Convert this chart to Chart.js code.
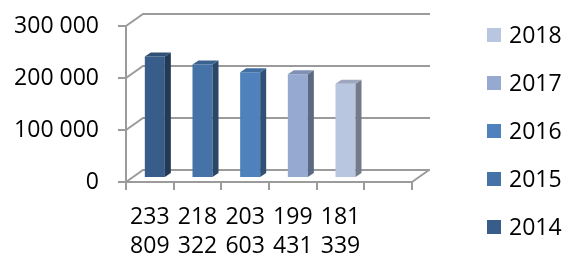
<!DOCTYPE html>
<html lang="en">
<head>
  <meta charset="UTF-8" />
  <title>Bars 2014-2018</title>
  <script src="https://cdn.jsdelivr.net/npm/chart.js"></script>
  <style>
    html, body { margin: 0; padding: 0; background: #ffffff; }
    .chart-container { width: 565px; height: 257px; }
  </style>
</head>
<body>
  <div class="chart-container"><canvas id="barChart"></canvas></div>

  <script>
    // data
    const categories = ['233 809', '218 322', '203 603', '199 431', '181 339', ''];
    const values = [233809, 218322, 203603, 199431, 181339, null];
    const years = ['2014', '2015', '2016', '2017', '2018'];
    const yTicks = [0, 100000, 200000, 300000];

    // styles
    const colors = ['#385D8A', '#4572A7', '#4F81BD', '#95A9D1', '#B9C6E0'];
    const gridColor = '#9b9b9b';
    const fontFamily = "'Open Sans', sans-serif";
    const WALL = { dx: 17, dy: -12 };   // depth of the box
    const SHIFT = { dx: 5, dy: -4 };    // bars sit mid-depth
    const BAR = { dx: 6, dy: -4 };      // depth of each bar

    const fmt = v => String(v).replace(/\B(?=(\d{3})+(?!\d))/g, ' ');

    const shade = (hex, f) => {
      const n = parseInt(hex.slice(1), 16);
      const r = Math.round(((n >> 16) & 255) * f);
      const g = Math.round(((n >> 8) & 255) * f);
      const b = Math.round((n & 255) * f);
      return `rgb(${r},${g},${b})`;
    };

    // back wall, floor and bar side/top faces
    const box3d = {
      id: 'box3d',
      beforeDatasetsDraw(chart) {
        const { ctx, chartArea: a, scales: { y } } = chart;
        ctx.save();
        ctx.strokeStyle = gridColor;
        ctx.lineWidth = 2;
        ctx.beginPath();
        yTicks.forEach(v => {
          const py = y.getPixelForValue(v);
          ctx.moveTo(a.left, py);
          ctx.lineTo(a.left + WALL.dx, py + WALL.dy);
          ctx.lineTo(a.right + WALL.dx + 1, py + WALL.dy);
        });
        const by = y.getPixelForValue(0);
        ctx.moveTo(a.right, by);
        ctx.lineTo(a.right + WALL.dx, by + WALL.dy);
        ctx.stroke();
        ctx.restore();

        ctx.save();
        ctx.translate(SHIFT.dx, SHIFT.dy);
      },
      afterDatasetsDraw(chart) {
        const ctx = chart.ctx;
        chart.getDatasetMeta(0).data.forEach((bar, i) => {
          if (values[i] == null) return;
          const { x, y, base, width } = bar.getProps(['x', 'y', 'base', 'width'], true);
          const l = x - width / 2, r = x + width / 2;
          ctx.fillStyle = shade(colors[i], 0.62);
          ctx.beginPath();
          ctx.moveTo(r, y);
          ctx.lineTo(r + BAR.dx, y + BAR.dy);
          ctx.lineTo(r + BAR.dx, base + BAR.dy);
          ctx.lineTo(r, base);
          ctx.closePath();
          ctx.fill();
          ctx.fillStyle = shade(colors[i], 0.85);
          ctx.beginPath();
          ctx.moveTo(l, y);
          ctx.lineTo(l + BAR.dx, y + BAR.dy);
          ctx.lineTo(r + BAR.dx, y + BAR.dy);
          ctx.lineTo(r, y);
          ctx.closePath();
          ctx.fill();
        });
        ctx.restore();
      }
    };

    // legend on the right, newest year on top
    const sideLegend = {
      id: 'sideLegend',
      afterDraw(chart) {
        const ctx = chart.ctx;
        ctx.save();
        ctx.font = `23px ${fontFamily}`;
        ctx.textBaseline = 'middle';
        years.slice().reverse().forEach((yr, i) => {
          const cy = 35 + i * 48;
          ctx.fillStyle = colors[years.length - 1 - i];
          ctx.fillRect(487, cy - 7, 14, 14);
          ctx.fillStyle = '#000000';
          ctx.fillText(yr, 509, cy + 1);
        });
        ctx.restore();
      }
    };

    new Chart(document.getElementById('barChart'), {
      type: 'bar',
      data: {
        labels: categories,
        datasets: [{
          data: values,
          backgroundColor: colors,
          borderWidth: 0,
          categoryPercentage: 1,
          barPercentage: 0.42
        }]
      },
      options: {
        responsive: true,
        maintainAspectRatio: false,
        animation: false,
        layout: { padding: { top: 26, right: 153, left: 0, bottom: 0 } },
        plugins: {
          legend: { display: false },
          tooltip: { enabled: false }
        },
        scales: {
          x: {
            afterFit: s => { s.height = 75; s.paddingLeft = 0; s.paddingRight = 0; },
            grid: { drawOnChartArea: false, color: gridColor, lineWidth: 2, tickLength: 8, offset: true },
            border: { color: gridColor, width: 2 },
            ticks: {
              color: '#000000',
              padding: 13,
              maxRotation: 0,
              autoSkip: false,
              font: { family: fontFamily, size: 23, lineHeight: 1.26 },
              callback: (v, i) => categories[i] ? categories[i].split(' ') : ''
            }
          },
          y: {
            min: 0,
            max: 300000,
            afterFit: s => { s.width = 126; s.paddingTop = 0; s.paddingBottom = 0; },
            afterBuildTicks: s => { s.ticks = yTicks.map(v => ({ value: v })); },
            grid: { drawOnChartArea: false, color: gridColor, lineWidth: 2, tickLength: 8 },
            border: { color: gridColor, width: 2 },
            ticks: {
              color: '#000000',
              padding: 19,
              font: { family: fontFamily, size: 23 },
              callback: v => fmt(v)
            }
          }
        }
      },
      plugins: [box3d, sideLegend]
    });
  </script>
</body>
</html>
